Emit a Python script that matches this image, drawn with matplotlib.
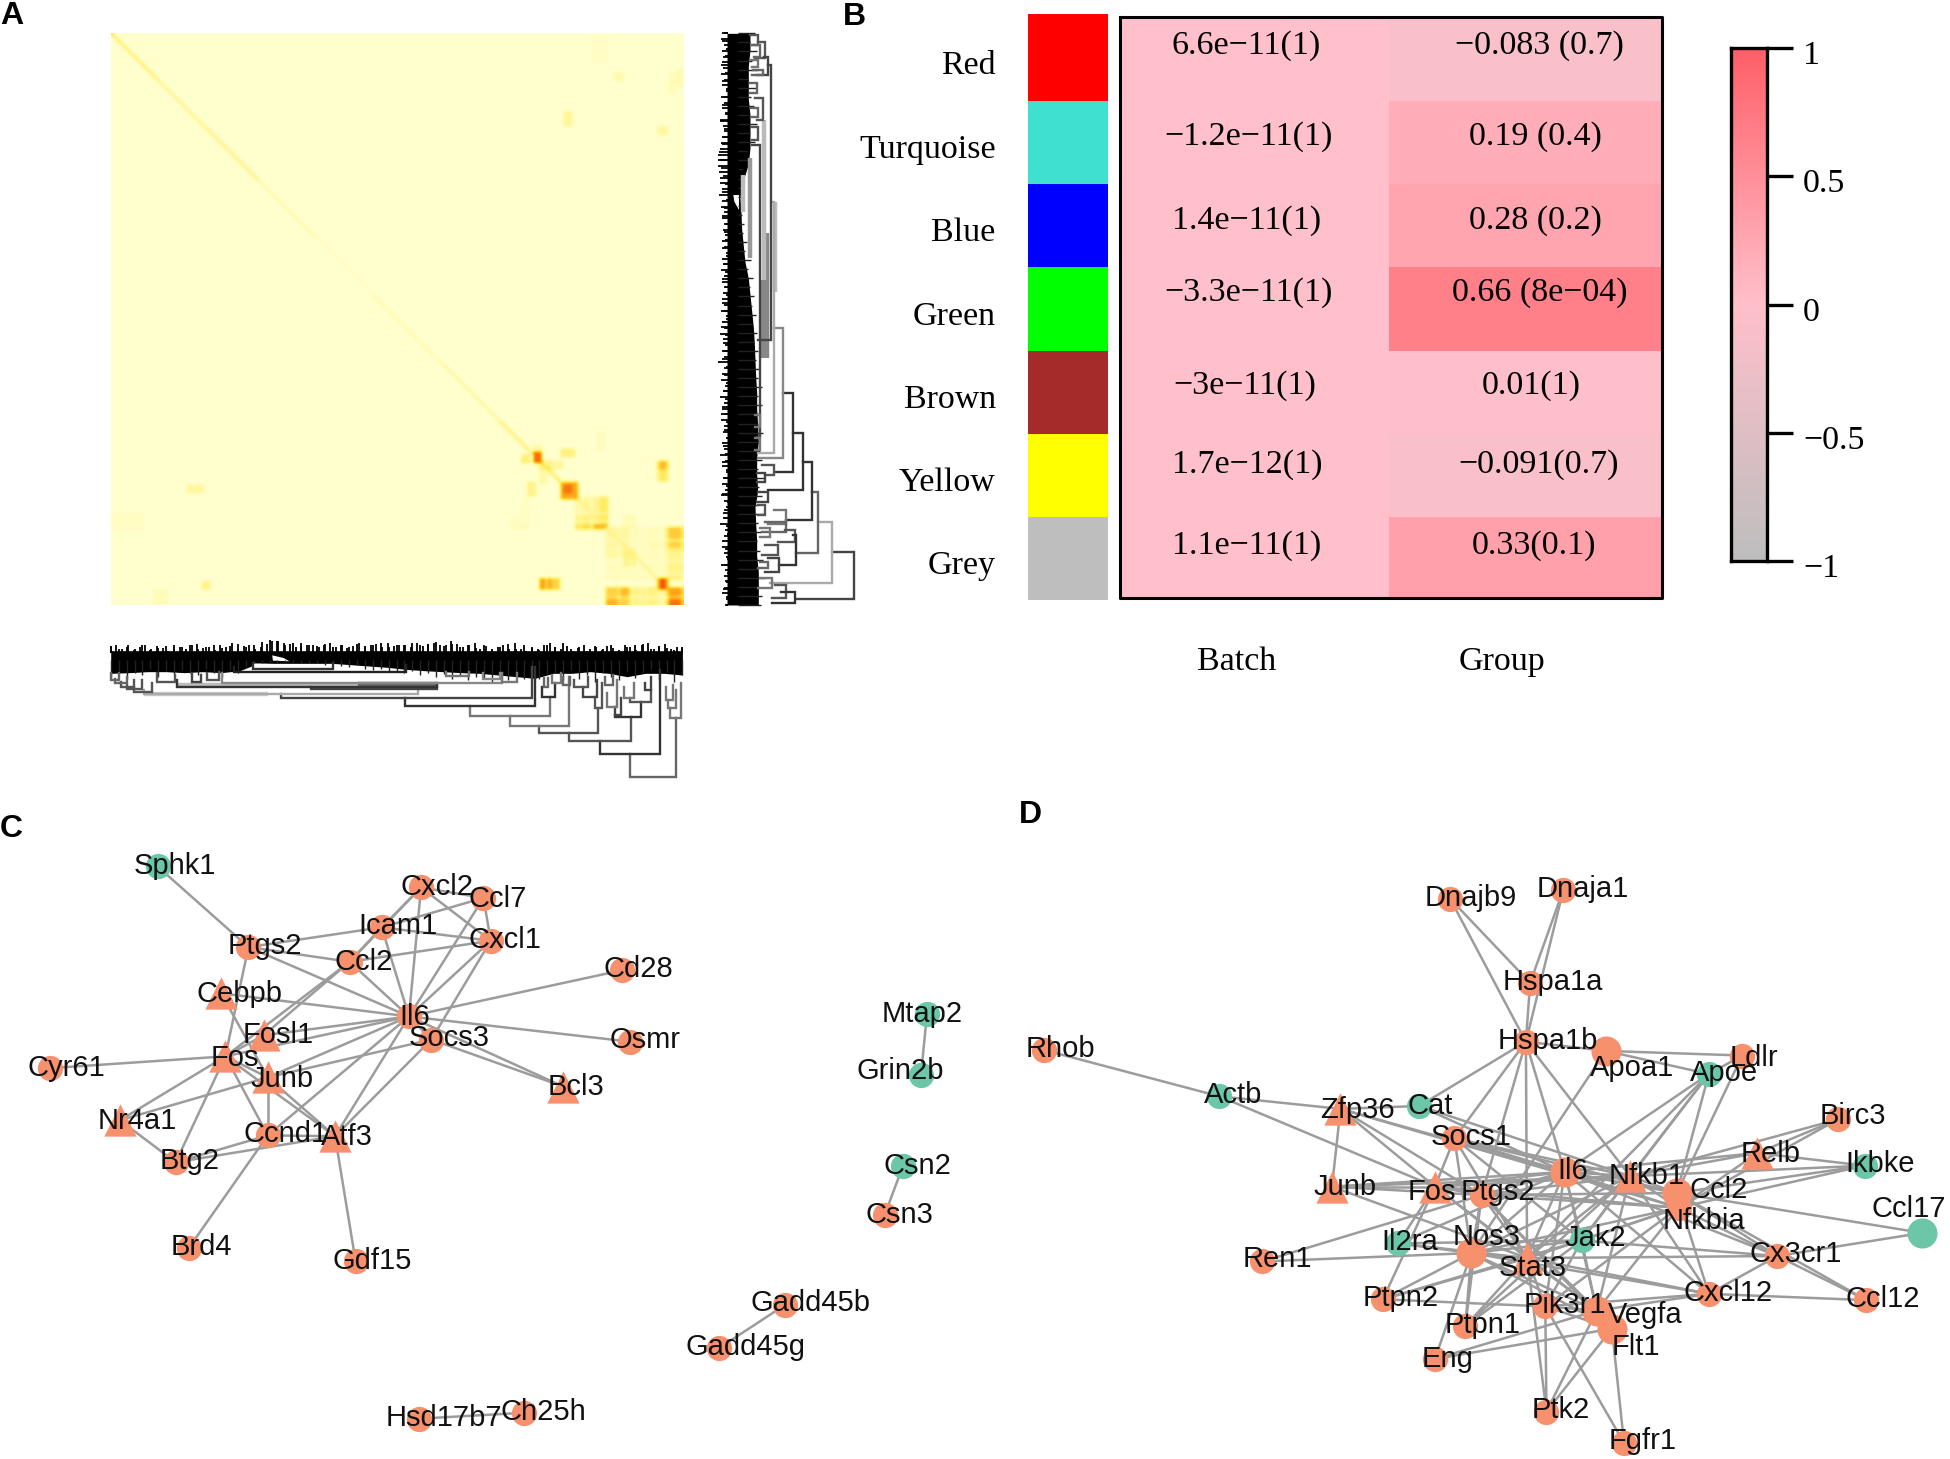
#! /usr/bin/python3

import numpy as np
import matplotlib
matplotlib.use("Agg")
import matplotlib.pyplot as plt
from matplotlib.colors import LinearSegmentedColormap, ListedColormap, Normalize
from matplotlib.transforms import ScaledTranslation

W, H = 1950, 1459
ORANGE = "#F7906D"
GREEN = "#6CC7A8"
EDGE = "#9C9C9C"

corner_blocks = [
    (376, 606, 320, 470, 0.06), (376, 606, 497, 555, 0.12), (280, 375, 228, 318, 0.13),
    (85, 135, 290, 318, 0.05), (430, 455, 280, 315, 0.09), (120, 140, 230, 300, 0.04),
    (122, 136, 103, 120, 0.26), (155, 170, 72, 88, 0.14), (236, 272, 87, 103, 0.22),
    (172, 198, 122, 148, 0.26), (172, 190, 148, 180, 0.12), (210, 235, 124, 142, 0.14),
    (526, 550, 122, 146, 0.56), (526, 550, 150, 178, 0.34), (136, 158, 182, 216, 0.2),
    (240, 278, 186, 226, 0.62), (245, 265, 192, 210, 0.78), (335, 375, 228, 285, 0.18),
    (280, 375, 285, 300, 0.24), (280, 375, 308, 318, 0.4), (358, 375, 228, 300, 0.32),
    (340, 375, 308, 318, 0.56), (376, 432, 320, 400, 0.14), (430, 452, 380, 425, 0.24),
    (505, 526, 360, 385, 0.1), (550, 606, 320, 352, 0.48), (550, 606, 355, 385, 0.44),
    (550, 606, 388, 420, 0.18), (550, 606, 425, 470, 0.2), (376, 432, 497, 555, 0.44),
    (376, 405, 530, 555, 0.58), (405, 432, 500, 525, 0.54), (445, 526, 497, 555, 0.22),
    (550, 606, 497, 555, 0.64), (565, 606, 525, 555, 0.78), (526, 550, 473, 497, 0.88),
    (174, 200, 474, 497, 0.64), (210, 232, 474, 497, 0.44), (152, 172, 98, 120, 0.8),
]
far_blocks = [
    (1000, 1015, 222, 242, 0.16), (1170, 1182, 247, 262, 0.16), (1185, 1200, 145, 178, 0.06),
    (1200, 1217, 140, 165, 0.08), (1050, 1075, 75, 122, 0.03), (1092, 1103, 142, 153, 0.12),
    (200, 255, 1000, 1030, 0.04), (335, 358, 947, 960, 0.14), (362, 373, 1136, 1149, 0.2),
    (272, 298, 1155, 1186, 0.07), (995, 1018, 880, 890, 0.16), (1062, 1072, 845, 878, 0.05),
]
diag_starts = [0.0, 0.08, 0.16, 0.26, 0.36, 0.46, 0.58, 0.68, 0.76, 0.82]
diag_ends = [0.08, 0.16, 0.26, 0.36, 0.46, 0.58, 0.68, 0.76, 0.82, 1.0]
diag_values = [0.2, 0.13, 0.15, 0.07, 0.03, 0.06, 0.1, 0.18, 0.24, 0.12]
# rows and columns of the lower right corner that read paler, in crop pixels
pale_strips = [190, 290, 330, 405, 442, 470, 490, 521, 552, 596]
pale_rows = [272, 300, 352, 386, 422, 455, 522]

# panel A: dendrograms, leaf tips read as spikes
bottom_top = [52, 44, 56, 46, 60, 50, 44, 58, 48, 54, 62, 44, 50, 58, 46, 42, 54, 50, 60, 46,
              52, 40, 56, 48, 44, 58, 50, 42, 34, 32, 38, 42, 50, 38, 46, 44, 52, 46, 40, 50,
              46, 54, 48, 40, 52, 46, 42, 50, 38, 48, 46, 44, 50, 40, 48, 42, 38, 46, 44, 34,
              42, 52, 46, 38, 56, 48, 60, 52, 44, 58, 40, 56, 62, 50, 58, 46, 40, 52, 56, 48,
              62, 54, 46, 58, 52, 60, 48, 54, 62, 46, 52, 60, 44, 38, 56, 50, 42, 58, 52, 56]
bottom_top2 = [48, 58, 50, 56, 46, 60, 54, 48, 58, 52, 44, 56, 50, 46, 54, 48, 42, 52, 44, 36,
               30, 34, 44, 40, 52, 44, 48, 42, 50, 44, 52, 42, 48, 46, 40, 50, 44, 46, 38, 46,
               42, 36, 48, 42, 50, 46, 54, 44, 56, 50, 42, 58, 46, 54, 60, 44, 52, 40, 56, 50,
               62, 48, 56, 44, 60, 52, 46, 42, 58, 48, 54, 60, 50]
bottom_low = [130, 128, 125, 125, 128, 125, 128, 122, 100, 100, 100, 100, 100, 104, 108, 112,
              118, 122, 125, 128, 130, 135, 140, 145, 130, 130, 125, 130, 140, 130, 130, 135]
bottom_low2 = [140, 122, 146, 128, 134, 118, 140, 124, 132, 120, 128, 136, 118, 130, 140, 120,
               130, 112, 98, 100, 98, 100, 98, 100, 100, 98, 100, 104, 102, 108, 112, 106,
               116, 120, 116, 126, 122, 130, 124, 136, 128, 140, 132, 146, 136, 150, 140, 148,
               155, 125, 150, 130, 146, 120, 148, 132, 128, 150, 120, 146, 135, 155, 128, 140,
               150, 125, 145, 130, 118, 150, 125, 155, 135]
# (x left, x right, bar, end left, end right, colour)
bottom_links = [
    (1385, 1505, 440, 372, 265, "#666666"), (1307, 1463, 372, 332, 120, "#333333"),
    (1225, 1387, 332, 310, 262, "#555555"), (1147, 1302, 310, 287, 235, "#555555"),
    (1072, 1225, 287, 257, 140, "#777777"), (968, 1175, 257, 228, 200, "#777777"),
    (797, 1138, 228, 205, 110, "#333333"), (472, 1130, 205, 192, 110, "#444444"),
    (115, 830, 192, 180, 178, "#AAAAAA"), (552, 880, 178, 172, 170, "#444444"),
    (200, 880, 170, 150, 160, "#333333"), (320, 1050, 160, 128, 130, "#888888"),
    (400, 610, 118, 100, 100, "#333333"), (350, 800, 125, 110, 105, "#222222"),
    (90, 135, 185, 170, 160, "#555555"), (70, 110, 178, 165, 150, "#555555"),
    (55, 90, 170, 155, 150, "#555555"), (40, 70, 160, 148, 140, "#666666"),
    (30, 50, 150, 130, 130, "#666666"), (1155, 1190, 200, 170, 160, "#333333"),
    (1160, 1172, 170, 145, 145, "#666666"), (1293, 1312, 235, 200, 160, "#555555"),
    (1262, 1298, 200, 170, 150, "#444444"), (1240, 1275, 170, 150, 140, "#555555"),
    (1345, 1415, 262, 255, 215, "#333333"), (1345, 1362, 255, 230, 205, "#444444"),
    (1325, 1350, 230, 190, 150, "#777777"), (1385, 1440, 215, 205, 180, "#555555"),
    (1370, 1395, 205, 170, 160, "#777777"), (1425, 1440, 180, 160, 140, "#444444"),
    (1490, 1518, 265, 235, 160, "#777777"), (1485, 1505, 235, 210, 180, "#777777"),
    (1480, 1498, 210, 170, 165, "#777777"), (1210, 1228, 165, 140, 140, "#666666"),
    (1180, 1205, 160, 135, 130, "#777777"), (1320, 1340, 165, 140, 135, "#666666"),
    (150, 195, 155, 130, 135, "#555555"), (240, 265, 155, 130, 135, "#444444"),
    (280, 312, 150, 128, 125, "#555555"), (1050, 1090, 155, 135, 130, "#777777"),
    (1000, 1045, 148, 128, 130, "#888888"), (905, 965, 138, 125, 125, "#777777"),
]
# thick grey bars of tightly stacked merges: x left, x right, y
bottom_thick = [(675, 880, 162, "#666666"), (200, 675, 165, "#BBBBBB"), (115, 440, 193, "#CCCCCC")]
# white wedges inside the black band: x points, y points
bottom_gaps = [([450, 480, 495, 452], [76, 84, 94, 92]), ([400, 560, 610, 400], [100, 106, 117, 116])]

right_left = [22, 18, 26, 20, 30, 20, 24, 18, 28, 22, 32, 18, 26, 22, 30, 16, 24, 28, 20, 18,
              14, 10, 8, 10, 12, 16, 14, 20, 12, 22, 18, 26, 20, 28, 24, 30, 22, 26, 32, 20,
              28, 18, 26, 22, 30, 24, 20, 28, 18, 32, 22, 26, 16, 24, 30, 22, 28, 10, 26, 20,
              18, 30, 24, 16, 28, 22, 30, 18, 26, 24, 32, 20, 28, 16, 30, 22, 34, 24, 20, 30,
              18, 26, 32, 24, 28, 16, 30, 26, 34, 22, 28, 36, 18, 30, 26, 34, 28, 22, 32, 30]
right_left2 = [28, 20, 32, 24, 18, 30, 22, 34, 26, 20, 30, 16, 28, 24, 20, 12, 14, 18, 24, 30,
               22, 34, 28, 20, 32, 26, 30, 22, 34, 24, 30, 20, 28, 32, 22, 26, 34, 18, 30, 24,
               28, 20, 32, 26, 34, 24, 30, 22, 18, 32, 28, 36, 24, 30, 20, 34, 26, 32, 22, 36,
               28, 24, 32, 36, 20, 30, 34, 26, 36, 30, 24, 34, 32]
right_high = [105, 105, 100, 100, 100, 105, 105, 105, 100, 85, 75, 78, 80, 85, 90, 100, 105, 110,
              115, 118, 120, 122, 125, 125, 128, 130, 125, 125, 128, 120, 122, 125, 125, 130, 130, 130]
right_high2 = [120, 105, 125, 110, 128, 100, 122, 108, 118, 100, 125, 104, 120, 95, 100, 85, 75,
               80, 78, 82, 80, 88, 85, 95, 90, 108, 100, 115, 105, 118, 110, 122, 112, 125, 118,
               130, 122, 135, 128, 140, 130, 142, 135, 130, 145, 128, 135, 142, 130, 150, 132,
               140, 128, 148, 130, 138, 125, 135, 145, 128, 150, 132, 140, 138]
# (y top, y bottom, bar, end top, end bottom, colour); y continues over the two crops
right_links = [
    (1580, 1722, 418, 352, 243, "#444444"), (1490, 1673, 350, 308, 165, "#AAAAAA"),
    (1400, 1585, 308, 290, 243, "#666666"), (1310, 1485, 290, 265, 213, "#333333"),
    (1223, 1395, 265, 233, 160, "#333333"), (1105, 1340, 233, 205, 180, "#333333"),
    (910, 1300, 205, 178, 130, "#888888"), (530, 1283, 178, 168, 130, "#AAAAAA"),
    (120, 945, 168, 160, 130, "#444444"), (360, 1235, 135, 110, 125, "#444444"),
    (30, 60, 130, 105, 110, "#555555"), (50, 100, 150, 128, 120, "#555555"),
    (95, 150, 160, 148, 125, "#444444"), (135, 150, 145, 115, 110, "#666666"),
    (220, 285, 145, 120, 125, "#555555"), (1320, 1350, 178, 140, 150, "#555555"),
    (1345, 1370, 150, 125, 125, "#444444"), (1400, 1430, 160, 130, 125, "#444444"),
    (1455, 1498, 212, 178, 160, "#777777"), (1490, 1520, 212, 150, 140, "#666666"),
    (1515, 1550, 240, 210, 190, "#555555"), (1530, 1620, 242, 235, 192, "#333333"),
    (1600, 1640, 192, 160, 150, "#444444"), (1680, 1720, 212, 180, 170, "#555555"),
    (1700, 1735, 240, 198, 170, "#333333"), (1560, 1590, 190, 150, 140, "#555555"),
    (60, 95, 135, 110, 118, "#666666"), (105, 125, 130, 105, 110, "#777777"),
    (175, 205, 125, 105, 105, "#666666"), (250, 275, 128, 108, 108, "#666666"),
    (305, 345, 130, 108, 112, "#555555"), (1170, 1205, 135, 120, 120, "#777777"),
    (1240, 1275, 135, 120, 120, "#777777"), (1440, 1470, 150, 130, 128, "#555555"),
    (1510, 1535, 165, 135, 135, "#777777"), (1610, 1630, 160, 135, 130, "#666666"),
    (1660, 1690, 170, 135, 130, "#777777"),
]
# thick grey bars: y top, y bottom, x, colour
right_thick = [(625, 1000, 155, "#888888"), (285, 765, 147, "#BBBBBB"), (765, 1000, 145, "#888888"),
               (530, 800, 180, "#BBBBBB"), (400, 700, 104, "#999999"), (450, 560, 84, "#BBBBBB")]
right_gaps = [([55, 72, 72, 58], [510, 510, 555, 530])]

# panel B
modules = ["Red", "Turquoise", "Blue", "Green", "Brown", "Yellow", "Grey"]
module_colors = ["#FF0000", "#40E0D0", "#0000FF", "#00FF00", "#A52A2A", "#FFFF00", "#BEBEBE"]
columns = ["Batch", "Group"]
cor_batch = [6.6e-11, -1.2e-11, 1.4e-11, -3.3e-11, -3e-11, 1.7e-12, 1.1e-11]
cor_group = [-0.083, 0.19, 0.28, 0.66, 0.01, -0.091, 0.33]
batch_text = ["6.6e\u221211(1)", "\u22121.2e\u221211(1)", "1.4e\u221211(1)", "\u22123.3e\u221211(1)",
              "\u22123e\u221211(1)", "1.7e\u221212(1)", "1.1e\u221211(1)"]
group_text = ["\u22120.083 (0.7)", "0.19 (0.4)", "0.28 (0.2)", "0.66 (8e\u221204)",
              "0.01(1)", "\u22120.091(0.7)", "0.33(0.1)"]
cbar_ticks = [1, 0.5, 0, -0.5, -1]
cbar_labels = ["1", "0.5", "0", "\u22120.5", "\u22121"]

# panel C network: name, x, y, shape, colour, label x, label y (crop coordinates)
c_nodes = [
    ("Sphk1", 260, 158, "o", GREEN, 288, 152), ("Cxcl2", 695, 208, "o", ORANGE, 722, 203),
    ("Ccl7", 798, 233, "o", ORANGE, 822, 230), ("Icam1", 630, 303, "o", ORANGE, 657, 295),
    ("Cxcl1", 810, 335, "o", ORANGE, 834, 328), ("Ptgs2", 410, 350, "o", ORANGE, 438, 342),
    ("Ccl2", 577, 385, "o", ORANGE, 600, 380), ("Cd28", 1027, 405, "o", ORANGE, 1053, 397),
    ("Cebpb", 365, 460, "^", ORANGE, 395, 457), ("Il6", 675, 515, "o", ORANGE, 685, 512),
    ("Socs3", 712, 570, "o", ORANGE, 741, 562), ("Osmr", 1040, 575, "o", ORANGE, 1065, 565),
    ("Fosl1", 435, 560, "^", ORANGE, 459, 553), ("Fos", 372, 610, "^", ORANGE, 388, 610),
    ("Cyr61", 83, 638, "o", ORANGE, 110, 632), ("Junb", 442, 660, "^", ORANGE, 466, 658),
    ("Bcl3", 930, 682, "^", ORANGE, 951, 678), ("Nr4a1", 198, 762, "^", ORANGE, 227, 758),
    ("Ccnd1", 442, 798, "o", ORANGE, 472, 790), ("Atf3", 553, 800, "^", ORANGE, 573, 797),
    ("Btg2", 290, 862, "o", ORANGE, 313, 855), ("Brd4", 312, 1065, "o", ORANGE, 333, 1058),
    ("Gdf15", 587, 1098, "o", ORANGE, 615, 1092), ("Mtap2", 1530, 510, "o", GREEN, 1522, 505),
    ("Grin2b", 1520, 655, "o", GREEN, 1486, 640), ("Csn2", 1490, 872, "o", GREEN, 1515, 865),
    ("Csn3", 1460, 988, "o", ORANGE, 1485, 982), ("Gadd45b", 1295, 1202, "o", ORANGE, 1338, 1193),
    ("Gadd45g", 1187, 1304, "o", ORANGE, 1230, 1297), ("Hsd17b7", 692, 1472, "o", ORANGE, 733, 1466),
    ("Ch25h", 865, 1458, "o", ORANGE, 897, 1452),
]
c_edges = """Sphk1-Ptgs2 Ptgs2-Icam1 Ptgs2-Ccl2 Ptgs2-Il6 Ptgs2-Fos Cebpb-Il6 Cebpb-Junb Icam1-Cxcl2
Icam1-Ccl7 Icam1-Cxcl1 Icam1-Il6 Icam1-Ccl2 Ccl2-Cxcl1 Ccl2-Il6 Ccl2-Fos Ccl2-Fosl1 Ccl2-Cxcl2
Cxcl2-Ccl7 Cxcl2-Cxcl1 Cxcl2-Il6 Ccl7-Cxcl1 Ccl7-Il6 Cxcl1-Il6 Cxcl1-Socs3 Il6-Cd28 Il6-Osmr
Il6-Bcl3 Socs3-Bcl3 Il6-Socs3 Il6-Fosl1 Il6-Fos Il6-Junb Il6-Ccnd1 Il6-Atf3 Socs3-Junb Socs3-Atf3
Fos-Cyr61 Fos-Fosl1 Fos-Junb Fos-Nr4a1 Fos-Ccnd1 Fos-Btg2 Fos-Atf3 Junb-Nr4a1 Junb-Ccnd1 Junb-Atf3
Nr4a1-Btg2 Btg2-Ccnd1 Btg2-Atf3 Ccnd1-Atf3 Ccnd1-Brd4 Atf3-Gdf15 Mtap2-Grin2b Csn2-Csn3
Gadd45b-Gadd45g Hsd17b7-Ch25h""".split()

# panel D network
d_nodes = [
    ("Dnajb9", 743, 235, "o", ORANGE, 777, 227), ("Dnaja1", 930, 213, "o", ORANGE, 962, 207),
    ("Hspa1a", 875, 435, "o", ORANGE, 912, 427), ("Hspa1b", 868, 575, "o", ORANGE, 905, 568),
    ("Apoa1", 1000, 597, "O", ORANGE, 1043, 632), ("Ldlr", 1225, 608, "o", ORANGE, 1245, 608),
    ("Apoe", 1170, 652, "o", GREEN, 1195, 645), ("Rhob", 73, 595, "o", ORANGE, 100, 587),
    ("Actb", 362, 705, "o", GREEN, 385, 697), ("Zfp36", 562, 735, "^", ORANGE, 590, 732),
    ("Cat", 692, 728, "o", GREEN, 710, 722), ("Socs1", 750, 805, "o", ORANGE, 778, 798),
    ("Birc3", 1383, 760, "o", ORANGE, 1407, 748), ("Relb", 1250, 840, "^", ORANGE, 1272, 838),
    ("Ikbke", 1427, 870, "o", GREEN, 1452, 862), ("Il6", 932, 885, "O", ORANGE, 945, 878),
    ("Nfkb1", 1040, 895, "^", ORANGE, 1068, 890), ("Ccl2", 1117, 935, "O", ORANGE, 1187, 923),
    ("Junb", 548, 920, "^", ORANGE, 570, 915), ("Fos", 718, 920, "^", ORANGE, 712, 927),
    ("Ptgs2", 795, 940, "o", ORANGE, 822, 927), ("Nfkbia", 1120, 970, "o", ORANGE, 1162, 997),
    ("Ccl17", 1522, 1030, "O", GREEN, 1500, 968), ("Il2ra", 657, 1055, "o", GREEN, 677, 1047),
    ("Nos3", 778, 1078, "O", ORANGE, 803, 1035), ("Jak2", 960, 1048, "o", GREEN, 982, 1037),
    ("Stat3", 870, 1090, "^", ORANGE, 880, 1108), ("Ren1", 433, 1098, "o", ORANGE, 458, 1088),
    ("Cx3cr1", 1283, 1085, "o", ORANGE, 1313, 1075), ("Cxcl12", 1170, 1175, "o", ORANGE, 1202, 1167),
    ("Ccl12", 1430, 1190, "o", ORANGE, 1457, 1182), ("Ptpn2", 632, 1188, "o", ORANGE, 661, 1180),
    ("Pik3r1", 900, 1205, "o", ORANGE, 933, 1197), ("Vegfa", 985, 1215, "O", ORANGE, 1065, 1220),
    ("Flt1", 1010, 1258, "O", ORANGE, 1050, 1297), ("Ptpn1", 768, 1252, "o", ORANGE, 796, 1245),
    ("Eng", 718, 1330, "o", ORANGE, 738, 1325), ("Ptk2", 902, 1455, "o", ORANGE, 925, 1447),
    ("Fgfr1", 1030, 1530, "o", ORANGE, 1060, 1520),
]
d_edges = """Dnajb9-Hspa1a Dnajb9-Hspa1b Dnaja1-Hspa1a Dnaja1-Hspa1b Hspa1a-Hspa1b Hspa1b-Apoa1 Hspa1b-Socs1
Hspa1b-Cat Hspa1b-Il6 Hspa1b-Ptgs2 Hspa1b-Nfkb1 Hspa1b-Stat3 Apoa1-Ldlr Apoa1-Apoe Apoe-Ldlr Apoa1-Nos3
Apoe-Il6 Apoe-Nfkb1 Apoe-Ccl2 Apoe-Stat3 Apoe-Jak2 Ldlr-Ccl2 Rhob-Actb Actb-Zfp36 Actb-Fos Zfp36-Junb
Zfp36-Cat Zfp36-Il6 Zfp36-Fos Zfp36-Ptgs2 Zfp36-Nfkbia Cat-Il6 Cat-Nfkb1 Socs1-Il6 Socs1-Stat3
Socs1-Nfkb1 Socs1-Jak2 Socs1-Ccl2 Socs1-Nos3 Socs1-Fos Birc3-Nfkb1 Birc3-Nfkbia Birc3-Relb Relb-Nfkb1
Relb-Nfkbia Relb-Ikbke Relb-Il6 Ikbke-Nfkb1 Ikbke-Nfkbia Ikbke-Ccl2 Ccl17-Ccl2 Ccl17-Cx3cr1 Cx3cr1-Ccl2
Cx3cr1-Ccl12 Cx3cr1-Cxcl12 Cx3cr1-Nfkbia Cx3cr1-Jak2 Cx3cr1-Stat3 Ccl12-Ccl2 Ccl12-Cxcl12 Cxcl12-Il6
Cxcl12-Vegfa Cxcl12-Nfkb1 Cxcl12-Ccl2 Cxcl12-Stat3 Cxcl12-Nos3 Cxcl12-Pik3r1 Junb-Fos Junb-Il6 Junb-Ptgs2
Junb-Nfkb1 Junb-Stat3 Fos-Il6 Fos-Ptgs2 Fos-Nfkb1 Fos-Stat3 Fos-Nfkbia Fos-Ptpn2 Fos-Vegfa Fos-Il2ra
Ptgs2-Il6 Ptgs2-Nfkb1 Ptgs2-Ccl2 Ptgs2-Nfkbia Ptgs2-Nos3 Ptgs2-Vegfa Ptgs2-Stat3 Ptgs2-Ptpn1 Ptgs2-Ren1
Ptgs2-Flt1 Il6-Nfkb1 Il6-Ccl2 Il6-Nfkbia Il6-Il2ra Il6-Nos3 Il6-Jak2 Il6-Stat3 Il6-Vegfa Il6-Pik3r1
Il6-Cx3cr1 Nfkb1-Nfkbia Nfkb1-Ccl2 Nfkb1-Nos3 Nfkb1-Stat3 Nfkb1-Jak2 Nfkb1-Vegfa Nfkb1-Ptpn1 Nfkbia-Stat3
Nfkbia-Jak2 Nfkbia-Nos3 Nfkbia-Vegfa Nfkbia-Ccl2 Nfkbia-Pik3r1 Il2ra-Jak2 Il2ra-Stat3 Il2ra-Nos3 Ren1-Nos3
Nos3-Jak2 Nos3-Stat3 Nos3-Vegfa Nos3-Flt1 Nos3-Ptpn1 Nos3-Eng Nos3-Ptpn2 Jak2-Stat3 Jak2-Ptpn2 Jak2-Ptpn1
Jak2-Pik3r1 Jak2-Vegfa Stat3-Ptpn1 Stat3-Ptpn2 Stat3-Pik3r1 Stat3-Vegfa Stat3-Ptk2 Ptpn2-Pik3r1 Pik3r1-Flt1
Pik3r1-Vegfa Pik3r1-Ptk2 Vegfa-Flt1 Vegfa-Eng Vegfa-Ptk2 Flt1-Eng Flt1-Ptk2 Fgfr1-Pik3r1 Fgfr1-Flt1""".split()

plt.rcParams["font.family"] = ["Liberation Sans", "DejaVu Sans"]
fig = plt.figure(figsize=(W / 100, H / 100), dpi=100, facecolor="white")


def px_axes(x0, y0, x1, y1, xlim=None, ylim=None):
    ax = fig.add_axes([x0 / W, 1 - y1 / H, (x1 - x0) / W, (y1 - y0) / H])
    if xlim is not None:
        ax.set_xlim(*xlim)
        ax.set_ylim(*ylim)
        ax.axis("off")
    return ax


def draw_network(ax, nodes, edges):
    pos = {n[0]: (n[1], n[2]) for n in nodes}
    for e in edges:
        a, b = e.split("-")
        ax.plot([pos[a][0], pos[b][0]], [pos[a][1], pos[b][1]], color=EDGE, lw=1.8, zorder=1)
    for name, x, y, shape, col, lx, ly in nodes:
        if shape == "^":
            ax.scatter(x, y, s=540, marker="^", color=col, linewidths=0, zorder=2)
        else:
            ax.scatter(x, y, s=470 if shape == "O" else 330, marker="o", color=col, linewidths=0, zorder=2)
    for name, x, y, shape, col, lx, ly in nodes:
        ax.text(lx, ly + 5, name, ha="center", va="center", fontsize=21, color="#111111", zorder=3)


# panel A heatmap
cell = 3
n = 572 // cell
tom = np.zeros((n, n))
def put_block(x0, x1, y0, y1, v):
    i0, i1 = int((x0 - 110.6) / cell), int((x1 - 110.6) / cell)
    j0, j1 = int((y0 - 33) / cell), int((y1 - 33) / cell)
    tom[max(j0, 0):j1 + 1, max(i0, 0):i1 + 1] = v
for b in far_blocks:
    put_block(b[0] / 1.782, b[1] / 1.782, b[2] / 1.96, b[3] / 1.96, b[4])
for b in corner_blocks:
    put_block(480 + b[0] / 3, 480 + b[1] / 3, 420 + b[2] / 3, 420 + b[3] / 3, b[4])
for p in pale_strips:
    tom[:, int((480 + p / 3 - 110.6) / cell)] *= 0.65
for p in pale_rows:
    tom[int((420 + p / 3 - 33) / cell), :] *= 0.65
for s, e, v in zip(diag_starts, diag_ends, diag_values):
    for i in range(int(s * n), int(e * n)):
        tom[i, i] = max(tom[i, i], v * 2)
heat = LinearSegmentedColormap.from_list(
    "tom", [(0, "#FFFFCE"), (0.3, "#FFEE66"), (0.6, "#FFB01A"), (1, "#EE2A00")])
ax = px_axes(110.6, 33, 683, 605)
ax.imshow(tom, cmap=heat, vmin=0, vmax=1, interpolation="bicubic", aspect="auto")
ax.axis("off")

# bottom dendrogram: solid core, then one thin line per leaf tip
ax = px_axes(100, 630, 700, 790, (0, 1568), (480, 0))
ax.fill_between(np.linspace(28, 1522, len(bottom_low)), 62, bottom_low, color="black", lw=0)
for top in (bottom_top, bottom_top2):
    ax.vlines(np.linspace(28, 1522, len(top)), top, 70, color="black", lw=1.3)
ax.vlines(np.linspace(28, 1522, len(bottom_low2)), 90, bottom_low2, color="#222222", lw=1.0)
for gx, gy in bottom_gaps:
    ax.fill(gx, gy, color="white", lw=0)
for x0, x1, y, col in bottom_thick:
    ax.plot([x0, x1], [y, y], color=col, lw=3.2, solid_capstyle="butt")
for x0, x1, bar, e0, e1, col in bottom_links:
    ax.plot([x0, x0, x1, x1], [e0, bar, bar, e1], color=col, lw=1.7, solid_joinstyle="miter")

# right dendrogram
ax = px_axes(715, 25, 865, 620, (0, 450), (1785, 0))
ax.fill_betweenx(np.linspace(25, 1740, len(right_high)), 36, right_high, color="black", lw=0)
for left in (right_left, right_left2):
    ax.hlines(np.linspace(25, 1740, len(left)), left, 40, color="black", lw=1.3)
ax.hlines(np.linspace(25, 1740, len(right_high2)), 70, right_high2, color="#222222", lw=1.0)
for gx, gy in right_gaps:
    ax.fill(gx, gy, color="white", lw=0)
for y0, y1, x, col in right_thick:
    ax.plot([x, x], [y0, y1], color=col, lw=3.2, solid_capstyle="butt")
for y0, y1, bar, e0, e1, col in right_links:
    ax.plot([e0, bar, bar, e1], [y0, y0, y1, y1], color=col, lw=1.7, solid_joinstyle="miter")

# panel B
greypink = LinearSegmentedColormap.from_list("gp", ["#BEBEBE", "#FFC0CB", "#FF5F68"])
norm = Normalize(-1, 1)
row_edges = [32, 226, 412, 599, 786, 972, 1158, 1345]
ax = px_axes(840, 0, 1950, 700, (0, 1568), (1568, 0))
ax.pcolormesh([265, 379], row_edges, np.arange(7).reshape(-1, 1),
              cmap=ListedColormap(module_colors), vmin=-0.5, vmax=6.5)
cells = np.column_stack([cor_batch, cor_group])
cell_edges = [38] + row_edges[1:-1] + [1340]
ax.pcolormesh([396, 775, 1161], cell_edges, cells, cmap=greypink, norm=norm)
ax.plot([396, 1161, 1161, 396, 396], [38, 38, 1340, 1340, 38], color="black", lw=2.2)
sfont = ["Liberation Serif", "DejaVu Serif"]
label_y = [148, 336, 521, 709, 896, 1081, 1268]
batch_y = [103, 307, 495, 655, 863, 1040, 1223]
batch_x = [574, 577, 575, 577, 572, 575, 575]
group_x = [988, 982, 982, 988, 976, 987, 980]
for i, m in enumerate(modules):
    ax.text(220, label_y[i], m, ha="right", va="center", family=sfont, fontsize=24.5)
    ax.text(batch_x[i], batch_y[i], batch_text[i], ha="center", va="center", family=sfont, fontsize=24.5)
    ax.text(group_x[i], batch_y[i], group_text[i], ha="center", va="center", family=sfont, fontsize=24.5)
ax.text(560, 1483, columns[0], ha="center", va="center", family=sfont, fontsize=24.5)
ax.text(935, 1483, columns[1], ha="center", va="center", family=sfont, fontsize=24.5)

cax = px_axes(1730.6, 48, 1767, 561)
cax.imshow(np.linspace(1, -1, 256).reshape(-1, 1), cmap=greypink, norm=norm, aspect="auto",
           extent=[0, 1, -1, 1])
cax.set_xticks([])
cax.yaxis.tick_right()
cax.set_yticks(cbar_ticks)
cax.set_yticklabels(cbar_labels, family=sfont, fontsize=24.5)
cax.tick_params(axis="y", length=19, width=2.4, pad=7)
for sp in cax.spines.values():
    sp.set_linewidth(2.4)
shift = ScaledTranslation(0, -4.5 / 100, fig.dpi_scale_trans)
for lab in cax.get_yticklabels():
    lab.set_transform(lab.get_transform() + shift)

# panels C and D
ax = px_axes(0, 800, 950, 1459, (0, 1568), (1568, 0))
draw_network(ax, c_nodes, c_edges)
ax = px_axes(1000, 800, 1950, 1459, (0, 1568), (1568, 0))
draw_network(ax, d_nodes, d_edges)

for letter, x, y in [("A", 12, 16), ("B", 854, 17), ("C", 11, 829), ("D", 1030, 815)]:
    fig.text(x / W, 1 - y / H, letter, ha="center", va="center", fontsize=23, fontweight="bold")

fig.savefig("out.png", dpi=100)
